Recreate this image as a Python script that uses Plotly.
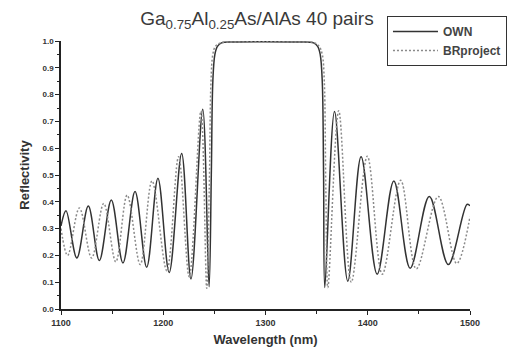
import plotly.graph_objects as go

# OWN (solid)
own_wl = [1100, 1104.9, 1115.5, 1126.7, 1137.5, 1149.2, 1160.6, 1172.4, 1183.8, 1194.8,
          1205.8, 1218, 1227.1, 1238.6, 1244.8, 1247, 1248.5, 1250.5, 1253, 1257, 1270,
          1300, 1330, 1347, 1351, 1353.5, 1355.5, 1356.8, 1358, 1367.5, 1380.5, 1393.5,
          1409.2, 1425.5, 1441.5, 1460.2, 1478.8, 1497, 1500]
own_r = [0.31, 0.367, 0.19, 0.384, 0.181, 0.407, 0.172, 0.438, 0.156, 0.488,
         0.136, 0.58, 0.112, 0.745, 0.083, 0.5, 0.85, 0.95, 0.98, 0.993, 0.996,
         0.997, 0.996, 0.993, 0.98, 0.95, 0.85, 0.5, 0.08, 0.737, 0.104, 0.568,
         0.13, 0.478, 0.152, 0.42, 0.166, 0.39, 0.385]

# BRproject (dotted)
br_wl = [1100, 1106.5, 1118, 1130, 1141.8, 1153.6, 1164.7, 1177.5, 1189, 1203.5,
         1215, 1225.4, 1236.8, 1242.5, 1245, 1246.7, 1248.5, 1251, 1256, 1270, 1300,
         1330, 1348, 1352.5, 1355.5, 1357.5, 1359, 1361, 1371.6, 1383.9, 1399.6,
         1414.2, 1432.2, 1447.5, 1469, 1487, 1500]
br_r = [0.30, 0.2, 0.377, 0.19, 0.394, 0.176, 0.425, 0.166, 0.478, 0.143,
        0.568, 0.12, 0.738, 0.077, 0.45, 0.85, 0.95, 0.98, 0.993, 0.996, 0.997,
        0.996, 0.993, 0.98, 0.95, 0.85, 0.45, 0.08, 0.74, 0.1, 0.57,
        0.13, 0.48, 0.15, 0.42, 0.17, 0.345]

x_ticks = [1100, 1200, 1300, 1400, 1500]
y_ticks = [0.0, 0.1, 0.2, 0.3, 0.4, 0.5, 0.6, 0.7, 0.8, 0.9, 1.0]

FONT = "Liberation Sans, Arial, sans-serif"

fig = go.Figure()
fig.add_trace(go.Scatter(x=own_wl, y=own_r, mode="lines", name="<b>OWN</b>",
                         line=dict(color="#333333", width=1.5, shape="spline", smoothing=1)))
fig.add_trace(go.Scatter(x=br_wl, y=br_r, mode="lines", name="<b>BRproject</b>",
                         line=dict(color="#8a8a8a", width=1.5, dash="2px,2px",
                                   shape="spline", smoothing=1)))

fig.update_layout(
    width=516, height=358,
    margin=dict(l=61, r=46, t=41, b=49, autoexpand=False),
    paper_bgcolor="white", plot_bgcolor="white",
    font=dict(family=FONT, color="#333333"),
    title=dict(text="Ga<sub>0.75</sub>Al<sub>0.25</sub>As/AlAs 40 pairs",
               x=0.498, xref="container", xanchor="center",
               y=0.95, yref="container", yanchor="middle",
               font=dict(size=19, family=FONT, color="#3a3a3a")),
    legend=dict(x=0.797, xanchor="left", y=1.093, yanchor="top",
                xref="paper", yref="paper",
                bordercolor="#333333", borderwidth=1, bgcolor="white",
                font=dict(size=12, family=FONT, color="#444444"),
                itemwidth=45, tracegroupgap=0),
    showlegend=True,
)
fig.update_xaxes(range=[1100, 1500], tickvals=x_ticks,
                 ticktext=[f"<b>{v}</b>" for v in x_ticks],
                 showgrid=False, zeroline=False, showline=True,
                 linecolor="#222222", linewidth=1.5, ticks="outside",
                 ticklen=4, tickwidth=1.2, tickcolor="#222222",
                 tickfont=dict(size=9, family=FONT, color="#333333"),
                 minor=dict(dtick=50, tick0=1100, ticks="outside", ticklen=3,
                            tickcolor="#222222", tickwidth=1),
                 title=dict(text="<b>Wavelength (nm)</b>", standoff=8,
                            font=dict(size=13, family=FONT, color="#333333")))
fig.update_yaxes(range=[0, 1.0], tickvals=y_ticks,
                 ticktext=[f"<b>{v:.1f}</b>" for v in y_ticks],
                 showgrid=False, zeroline=False, showline=True,
                 linecolor="#222222", linewidth=1.5, ticks="outside",
                 ticklen=4, tickwidth=1.2, tickcolor="#222222",
                 tickfont=dict(size=8, family=FONT, color="#333333"),
                 minor=dict(dtick=0.05, tick0=0, ticks="outside", ticklen=2,
                            tickcolor="#222222", tickwidth=1),
                 title=dict(text="<b>Reflectivity</b>", standoff=10,
                            font=dict(size=13, family=FONT, color="#333333")))

fig.write_html("out.html")
